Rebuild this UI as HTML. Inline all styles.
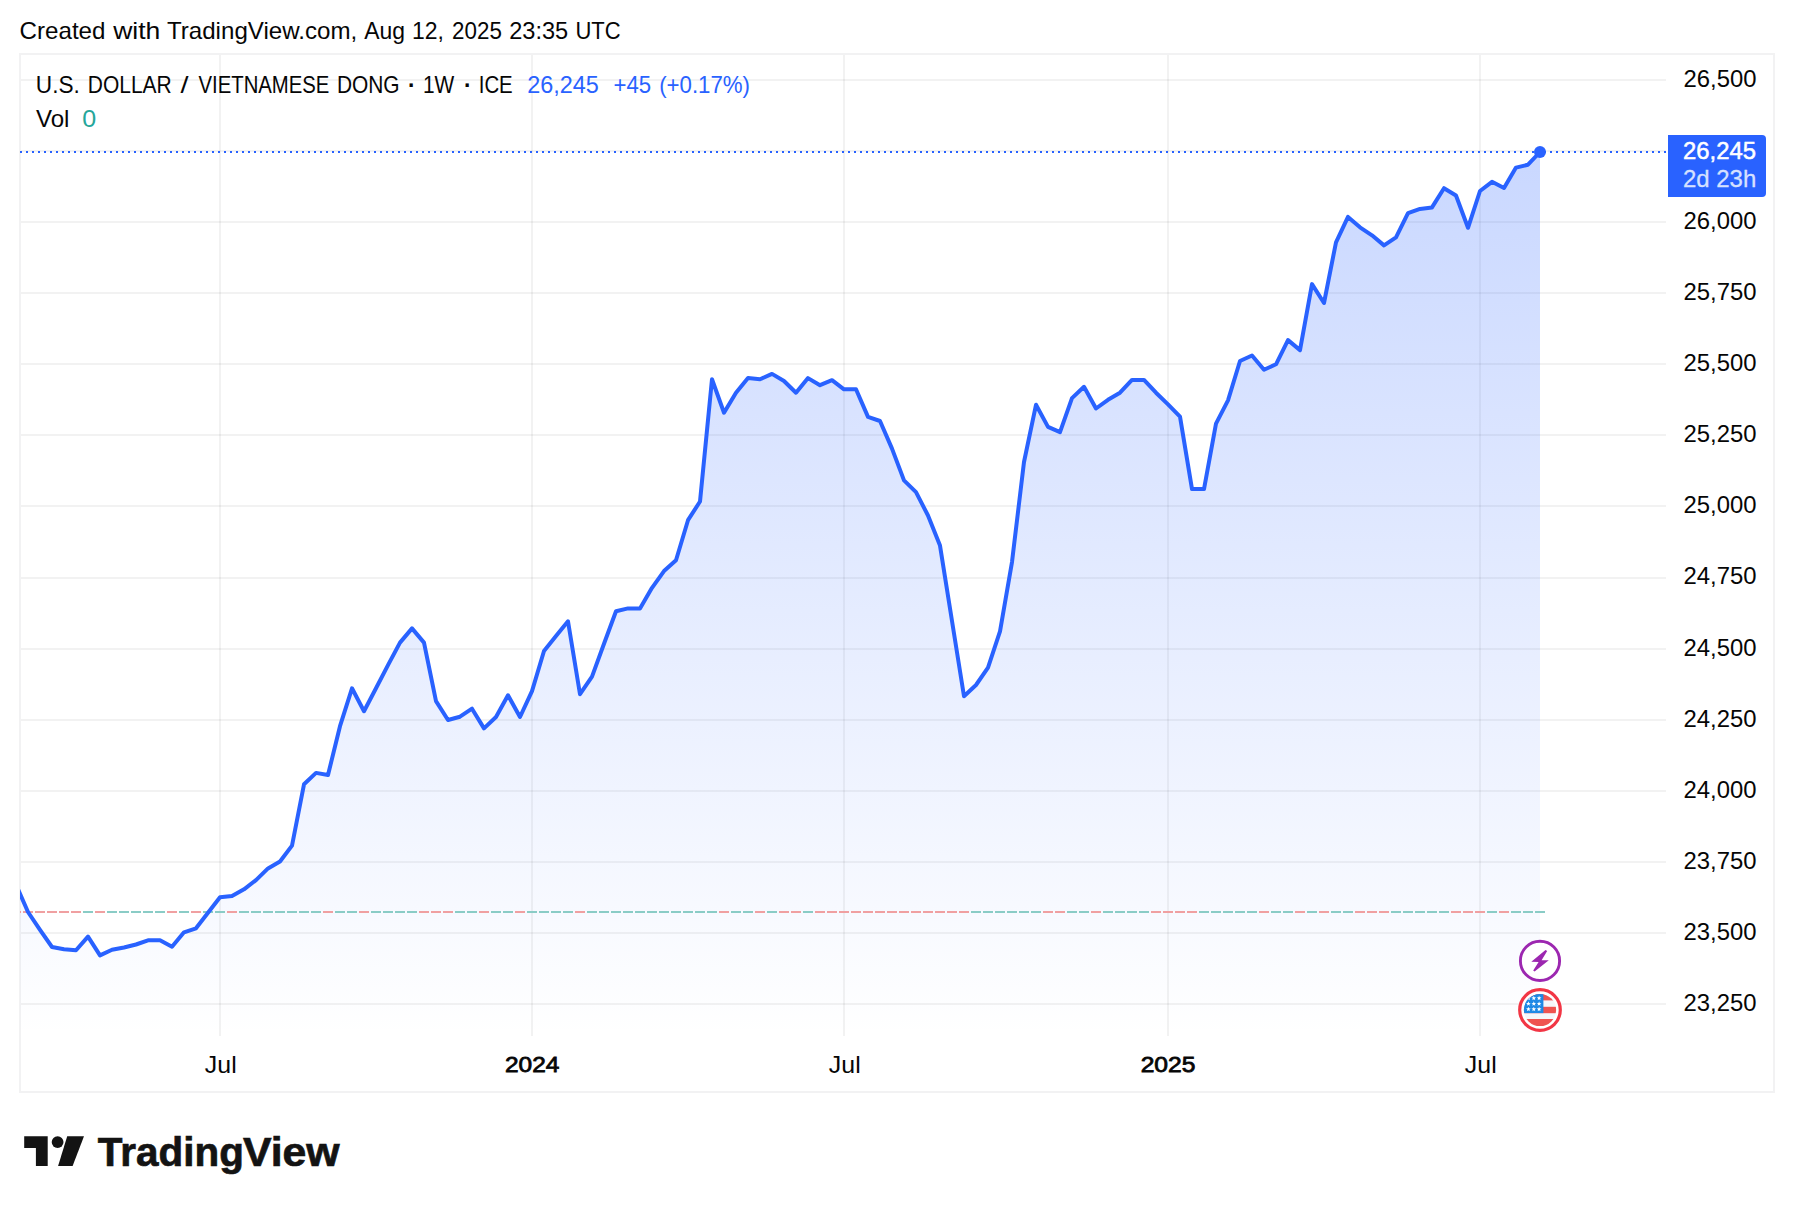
<!DOCTYPE html>
<html lang="en"><head><meta charset="utf-8"><title>USDVND chart</title>
<style>html,body{margin:0;padding:0;background:#fff}body{width:1794px;height:1212px;overflow:hidden;position:relative;font-family:'Liberation Sans', sans-serif}svg{position:absolute;left:0;top:0;display:block}text{font-family:'Liberation Sans', sans-serif}</style></head><body>
<svg width="1794" height="1212" viewBox="0 0 1794 1212">
<defs><linearGradient id="ag" gradientUnits="userSpaceOnUse" x1="0" y1="55" x2="0" y2="1036"><stop offset="0" stop-color="#2962ff" stop-opacity="0.28"/><stop offset="1" stop-color="#2962ff" stop-opacity="0"/></linearGradient>
<clipPath id="pane"><rect x="20" y="55" width="1648" height="981"/></clipPath>
<clipPath id="flagc"><circle cx="1540" cy="1010" r="16.1"/></clipPath></defs>
<g id="hdr"><text x="19.55" y="38.8" font-size="23.4" fill="#060606" textLength="85.90" lengthAdjust="spacingAndGlyphs">Created</text><text x="113.17" y="38.8" font-size="23.4" fill="#060606" textLength="47.16" lengthAdjust="spacingAndGlyphs">with</text><text x="166.98" y="38.8" font-size="23.4" fill="#060606" textLength="190.21" lengthAdjust="spacingAndGlyphs">TradingView.com,</text><text x="364.23" y="38.8" font-size="23.4" fill="#060606" textLength="40.76" lengthAdjust="spacingAndGlyphs">Aug</text><text x="411.89" y="38.8" font-size="23.4" fill="#060606" textLength="31.96" lengthAdjust="spacingAndGlyphs">12,</text><text x="452.10" y="38.8" font-size="23.4" fill="#060606" textLength="49.76" lengthAdjust="spacingAndGlyphs">2025</text><text x="509.22" y="38.8" font-size="23.4" fill="#060606" textLength="59.02" lengthAdjust="spacingAndGlyphs">23:35</text><text x="575.47" y="38.8" font-size="23.4" fill="#060606" textLength="45.18" lengthAdjust="spacingAndGlyphs">UTC</text></g>
<rect x="20" y="54" width="1754" height="1038" fill="none" stroke="#f2f2f3" stroke-width="2"/>
<g fill="rgba(0,0,0,0.05)">
<rect x="21" y="79" width="1645" height="2"/>
<rect x="21" y="150" width="1645" height="2"/>
<rect x="21" y="221" width="1645" height="2"/>
<rect x="21" y="292" width="1645" height="2"/>
<rect x="21" y="363" width="1645" height="2"/>
<rect x="21" y="434" width="1645" height="2"/>
<rect x="21" y="505" width="1645" height="2"/>
<rect x="21" y="577" width="1645" height="2"/>
<rect x="21" y="648" width="1645" height="2"/>
<rect x="21" y="719" width="1645" height="2"/>
<rect x="21" y="790" width="1645" height="2"/>
<rect x="21" y="861" width="1645" height="2"/>
<rect x="21" y="932" width="1645" height="2"/>
<rect x="21" y="1003" width="1645" height="2"/>
<rect x="219" y="55" width="2" height="981"/>
<rect x="531" y="55" width="2" height="981"/>
<rect x="843" y="55" width="2" height="981"/>
<rect x="1167" y="55" width="2" height="981"/>
<rect x="1479" y="55" width="2" height="981"/>
</g>
<g clip-path="url(#pane)">
<path d="M16,884.6 L28,912 L40,929.9 L52,947 L64,949.2 L76,950.3 L88,936.6 L100,955.4 L112,949.8 L124,947.5 L136,944.5 L148,940.3 L160,940.3 L172,946.7 L184,932.3 L196,928.3 L208,912.7 L220,897.3 L232,896 L244,889.3 L256,880.1 L268,868.4 L280,861.5 L292,845.6 L304,784.3 L316,772.9 L328,775 L340,726.2 L352,688.3 L364,711.2 L376,688.3 L388,665.2 L400,642.6 L412,628.4 L424,642.6 L436,701.1 L448,720 L460,716.7 L472,708.7 L484,728.4 L496,717 L508,695.3 L520,717 L532,691.1 L544,651 L556,635.9 L568,621.3 L580,694.2 L592,676.6 L604,643.8 L616,611.2 L628,608.4 L640,608.4 L652,587.8 L664,571.1 L676,560.2 L688,520.2 L700,501.5 L712,379.3 L724,412.7 L736,392.7 L748,378.1 L760,379.3 L772,373.9 L784,381 L796,392.7 L808,378.1 L820,385.2 L832,380.2 L844,389.3 L856,389.3 L868,416.9 L880,421 L892,448.6 L904,480.4 L916,492.1 L928,515.5 L940,545.6 L952,621 L964,696.2 L976,685 L988,667.7 L1000,631.4 L1012,562.1 L1024,462 L1036,404.8 L1048,426.9 L1060,432.2 L1072,398.1 L1084,386.8 L1096,408.5 L1108,399.8 L1120,392.7 L1132,379.9 L1144,379.9 L1156,392.7 L1168,404.4 L1180,416.7 L1192,489.1 L1204,489.1 L1216,423.7 L1228,400.3 L1240,361 L1252,355.5 L1264,369.8 L1276,364.3 L1288,340.1 L1300,350.1 L1312,284.1 L1324,303 L1336,242.3 L1348,216.9 L1360,227.3 L1372,235.3 L1384,245.4 L1396,237.3 L1408,213.2 L1420,208.9 L1432,207.4 L1444,188.2 L1456,195.5 L1468,227.8 L1480,191 L1492,181.8 L1504,188 L1516,167.6 L1528,164.7 L1540,152 L1540,1036 L16,1036 Z" fill="url(#ag)"/>
<g>
<rect x="11" y="911" width="10" height="2" fill="#f0a0a1"/>
<rect x="23" y="911" width="10" height="2" fill="#f0a0a1"/>
<rect x="35" y="911" width="10" height="2" fill="#f0a0a1"/>
<rect x="47" y="911" width="10" height="2" fill="#f0a0a1"/>
<rect x="59" y="911" width="10" height="2" fill="#f0a0a1"/>
<rect x="71" y="911" width="10" height="2" fill="#f0a0a1"/>
<rect x="83" y="911" width="10" height="2" fill="#8accc6"/>
<rect x="95" y="911" width="10" height="2" fill="#f0a0a1"/>
<rect x="107" y="911" width="10" height="2" fill="#8accc6"/>
<rect x="119" y="911" width="10" height="2" fill="#8accc6"/>
<rect x="131" y="911" width="10" height="2" fill="#8accc6"/>
<rect x="143" y="911" width="10" height="2" fill="#8accc6"/>
<rect x="155" y="911" width="10" height="2" fill="#8accc6"/>
<rect x="167" y="911" width="10" height="2" fill="#f0a0a1"/>
<rect x="179" y="911" width="10" height="2" fill="#8accc6"/>
<rect x="191" y="911" width="10" height="2" fill="#f0a0a1"/>
<rect x="203" y="911" width="10" height="2" fill="#8accc6"/>
<rect x="215" y="911" width="10" height="2" fill="#8accc6"/>
<rect x="227" y="911" width="10" height="2" fill="#f0a0a1"/>
<rect x="239" y="911" width="10" height="2" fill="#8accc6"/>
<rect x="251" y="911" width="10" height="2" fill="#8accc6"/>
<rect x="263" y="911" width="10" height="2" fill="#8accc6"/>
<rect x="275" y="911" width="10" height="2" fill="#8accc6"/>
<rect x="287" y="911" width="10" height="2" fill="#8accc6"/>
<rect x="299" y="911" width="10" height="2" fill="#8accc6"/>
<rect x="311" y="911" width="10" height="2" fill="#8accc6"/>
<rect x="323" y="911" width="10" height="2" fill="#f0a0a1"/>
<rect x="335" y="911" width="10" height="2" fill="#8accc6"/>
<rect x="347" y="911" width="10" height="2" fill="#8accc6"/>
<rect x="359" y="911" width="10" height="2" fill="#f0a0a1"/>
<rect x="371" y="911" width="10" height="2" fill="#8accc6"/>
<rect x="383" y="911" width="10" height="2" fill="#8accc6"/>
<rect x="395" y="911" width="10" height="2" fill="#8accc6"/>
<rect x="407" y="911" width="10" height="2" fill="#8accc6"/>
<rect x="419" y="911" width="10" height="2" fill="#f0a0a1"/>
<rect x="431" y="911" width="10" height="2" fill="#f0a0a1"/>
<rect x="443" y="911" width="10" height="2" fill="#f0a0a1"/>
<rect x="455" y="911" width="10" height="2" fill="#8accc6"/>
<rect x="467" y="911" width="10" height="2" fill="#8accc6"/>
<rect x="479" y="911" width="10" height="2" fill="#f0a0a1"/>
<rect x="491" y="911" width="10" height="2" fill="#8accc6"/>
<rect x="503" y="911" width="10" height="2" fill="#8accc6"/>
<rect x="515" y="911" width="10" height="2" fill="#f0a0a1"/>
<rect x="527" y="911" width="10" height="2" fill="#8accc6"/>
<rect x="539" y="911" width="10" height="2" fill="#8accc6"/>
<rect x="551" y="911" width="10" height="2" fill="#8accc6"/>
<rect x="563" y="911" width="10" height="2" fill="#8accc6"/>
<rect x="575" y="911" width="10" height="2" fill="#f0a0a1"/>
<rect x="587" y="911" width="10" height="2" fill="#8accc6"/>
<rect x="599" y="911" width="10" height="2" fill="#8accc6"/>
<rect x="611" y="911" width="10" height="2" fill="#8accc6"/>
<rect x="623" y="911" width="10" height="2" fill="#8accc6"/>
<rect x="635" y="911" width="10" height="2" fill="#8accc6"/>
<rect x="647" y="911" width="10" height="2" fill="#8accc6"/>
<rect x="659" y="911" width="10" height="2" fill="#8accc6"/>
<rect x="671" y="911" width="10" height="2" fill="#8accc6"/>
<rect x="683" y="911" width="10" height="2" fill="#8accc6"/>
<rect x="695" y="911" width="10" height="2" fill="#8accc6"/>
<rect x="707" y="911" width="10" height="2" fill="#8accc6"/>
<rect x="719" y="911" width="10" height="2" fill="#f0a0a1"/>
<rect x="731" y="911" width="10" height="2" fill="#8accc6"/>
<rect x="743" y="911" width="10" height="2" fill="#8accc6"/>
<rect x="755" y="911" width="10" height="2" fill="#f0a0a1"/>
<rect x="767" y="911" width="10" height="2" fill="#8accc6"/>
<rect x="779" y="911" width="10" height="2" fill="#f0a0a1"/>
<rect x="791" y="911" width="10" height="2" fill="#f0a0a1"/>
<rect x="803" y="911" width="10" height="2" fill="#8accc6"/>
<rect x="815" y="911" width="10" height="2" fill="#f0a0a1"/>
<rect x="827" y="911" width="10" height="2" fill="#f0a0a1"/>
<rect x="839" y="911" width="10" height="2" fill="#f0a0a1"/>
<rect x="851" y="911" width="10" height="2" fill="#f0a0a1"/>
<rect x="863" y="911" width="10" height="2" fill="#f0a0a1"/>
<rect x="875" y="911" width="10" height="2" fill="#f0a0a1"/>
<rect x="887" y="911" width="10" height="2" fill="#f0a0a1"/>
<rect x="899" y="911" width="10" height="2" fill="#f0a0a1"/>
<rect x="911" y="911" width="10" height="2" fill="#f0a0a1"/>
<rect x="923" y="911" width="10" height="2" fill="#f0a0a1"/>
<rect x="935" y="911" width="10" height="2" fill="#f0a0a1"/>
<rect x="947" y="911" width="10" height="2" fill="#f0a0a1"/>
<rect x="959" y="911" width="10" height="2" fill="#f0a0a1"/>
<rect x="971" y="911" width="10" height="2" fill="#8accc6"/>
<rect x="983" y="911" width="10" height="2" fill="#8accc6"/>
<rect x="995" y="911" width="10" height="2" fill="#8accc6"/>
<rect x="1007" y="911" width="10" height="2" fill="#8accc6"/>
<rect x="1019" y="911" width="10" height="2" fill="#8accc6"/>
<rect x="1031" y="911" width="10" height="2" fill="#8accc6"/>
<rect x="1043" y="911" width="10" height="2" fill="#f0a0a1"/>
<rect x="1055" y="911" width="10" height="2" fill="#f0a0a1"/>
<rect x="1067" y="911" width="10" height="2" fill="#8accc6"/>
<rect x="1079" y="911" width="10" height="2" fill="#8accc6"/>
<rect x="1091" y="911" width="10" height="2" fill="#f0a0a1"/>
<rect x="1103" y="911" width="10" height="2" fill="#8accc6"/>
<rect x="1115" y="911" width="10" height="2" fill="#8accc6"/>
<rect x="1127" y="911" width="10" height="2" fill="#8accc6"/>
<rect x="1139" y="911" width="10" height="2" fill="#8accc6"/>
<rect x="1151" y="911" width="10" height="2" fill="#f0a0a1"/>
<rect x="1163" y="911" width="10" height="2" fill="#f0a0a1"/>
<rect x="1175" y="911" width="10" height="2" fill="#f0a0a1"/>
<rect x="1187" y="911" width="10" height="2" fill="#f0a0a1"/>
<rect x="1199" y="911" width="10" height="2" fill="#8accc6"/>
<rect x="1211" y="911" width="10" height="2" fill="#8accc6"/>
<rect x="1223" y="911" width="10" height="2" fill="#8accc6"/>
<rect x="1235" y="911" width="10" height="2" fill="#8accc6"/>
<rect x="1247" y="911" width="10" height="2" fill="#8accc6"/>
<rect x="1259" y="911" width="10" height="2" fill="#f0a0a1"/>
<rect x="1271" y="911" width="10" height="2" fill="#8accc6"/>
<rect x="1283" y="911" width="10" height="2" fill="#8accc6"/>
<rect x="1295" y="911" width="10" height="2" fill="#f0a0a1"/>
<rect x="1307" y="911" width="10" height="2" fill="#8accc6"/>
<rect x="1319" y="911" width="10" height="2" fill="#f0a0a1"/>
<rect x="1331" y="911" width="10" height="2" fill="#8accc6"/>
<rect x="1343" y="911" width="10" height="2" fill="#8accc6"/>
<rect x="1355" y="911" width="10" height="2" fill="#f0a0a1"/>
<rect x="1367" y="911" width="10" height="2" fill="#f0a0a1"/>
<rect x="1379" y="911" width="10" height="2" fill="#f0a0a1"/>
<rect x="1391" y="911" width="10" height="2" fill="#8accc6"/>
<rect x="1403" y="911" width="10" height="2" fill="#8accc6"/>
<rect x="1415" y="911" width="10" height="2" fill="#8accc6"/>
<rect x="1427" y="911" width="10" height="2" fill="#8accc6"/>
<rect x="1439" y="911" width="10" height="2" fill="#8accc6"/>
<rect x="1451" y="911" width="10" height="2" fill="#f0a0a1"/>
<rect x="1463" y="911" width="10" height="2" fill="#f0a0a1"/>
<rect x="1475" y="911" width="10" height="2" fill="#f0a0a1"/>
<rect x="1487" y="911" width="10" height="2" fill="#8accc6"/>
<rect x="1499" y="911" width="10" height="2" fill="#f0a0a1"/>
<rect x="1511" y="911" width="10" height="2" fill="#8accc6"/>
<rect x="1523" y="911" width="10" height="2" fill="#8accc6"/>
<rect x="1535" y="911" width="10" height="2" fill="#8accc6"/>
</g>
<path d="M16,884.6 L28,912 L40,929.9 L52,947 L64,949.2 L76,950.3 L88,936.6 L100,955.4 L112,949.8 L124,947.5 L136,944.5 L148,940.3 L160,940.3 L172,946.7 L184,932.3 L196,928.3 L208,912.7 L220,897.3 L232,896 L244,889.3 L256,880.1 L268,868.4 L280,861.5 L292,845.6 L304,784.3 L316,772.9 L328,775 L340,726.2 L352,688.3 L364,711.2 L376,688.3 L388,665.2 L400,642.6 L412,628.4 L424,642.6 L436,701.1 L448,720 L460,716.7 L472,708.7 L484,728.4 L496,717 L508,695.3 L520,717 L532,691.1 L544,651 L556,635.9 L568,621.3 L580,694.2 L592,676.6 L604,643.8 L616,611.2 L628,608.4 L640,608.4 L652,587.8 L664,571.1 L676,560.2 L688,520.2 L700,501.5 L712,379.3 L724,412.7 L736,392.7 L748,378.1 L760,379.3 L772,373.9 L784,381 L796,392.7 L808,378.1 L820,385.2 L832,380.2 L844,389.3 L856,389.3 L868,416.9 L880,421 L892,448.6 L904,480.4 L916,492.1 L928,515.5 L940,545.6 L952,621 L964,696.2 L976,685 L988,667.7 L1000,631.4 L1012,562.1 L1024,462 L1036,404.8 L1048,426.9 L1060,432.2 L1072,398.1 L1084,386.8 L1096,408.5 L1108,399.8 L1120,392.7 L1132,379.9 L1144,379.9 L1156,392.7 L1168,404.4 L1180,416.7 L1192,489.1 L1204,489.1 L1216,423.7 L1228,400.3 L1240,361 L1252,355.5 L1264,369.8 L1276,364.3 L1288,340.1 L1300,350.1 L1312,284.1 L1324,303 L1336,242.3 L1348,216.9 L1360,227.3 L1372,235.3 L1384,245.4 L1396,237.3 L1408,213.2 L1420,208.9 L1432,207.4 L1444,188.2 L1456,195.5 L1468,227.8 L1480,191 L1492,181.8 L1504,188 L1516,167.6 L1528,164.7 L1540,152" fill="none" stroke="#2962ff" stroke-width="4" stroke-linejoin="round" stroke-linecap="round"/>
</g>
<path d="M20,152 H1668" stroke="#2962ff" stroke-width="2" stroke-dasharray="2 4" fill="none"/>
<circle cx="1540" cy="152" r="6" fill="#2962ff"/>
<g id="legend"><text x="35.86" y="92.7" font-size="23.4" fill="#060606" textLength="43.99" lengthAdjust="spacingAndGlyphs">U.S.</text><text x="87.80" y="92.7" font-size="23.4" fill="#060606" textLength="83.92" lengthAdjust="spacingAndGlyphs">DOLLAR</text><text x="180.60" y="92.7" font-size="23.4" fill="#060606" textLength="8.02" lengthAdjust="spacingAndGlyphs">/</text><text x="198.53" y="92.7" font-size="23.4" fill="#060606" textLength="130.84" lengthAdjust="spacingAndGlyphs">VIETNAMESE</text><text x="336.89" y="92.7" font-size="23.4" fill="#060606" textLength="62.69" lengthAdjust="spacingAndGlyphs">DONG</text><text x="423.02" y="92.7" font-size="23.4" fill="#060606" textLength="31.31" lengthAdjust="spacingAndGlyphs">1W</text><text x="478.73" y="92.7" font-size="23.4" fill="#060606" textLength="34.00" lengthAdjust="spacingAndGlyphs">ICE</text>
<text x="405.4" y="94.4" font-size="34" fill="#060606">·</text><text x="461.5" y="94.4" font-size="34" fill="#060606">·</text>
<text x="527.21" y="92.7" font-size="23.4" fill="#2962ff" textLength="71.61" lengthAdjust="spacingAndGlyphs">26,245</text><text x="613.55" y="92.7" font-size="23.4" fill="#2962ff" textLength="37.62" lengthAdjust="spacingAndGlyphs">+45</text><text x="659.13" y="92.7" font-size="23.4" fill="#2962ff" textLength="90.86" lengthAdjust="spacingAndGlyphs">(+0.17%)</text>
<text x="35.92" y="126.7" font-size="23.4" fill="#060606" textLength="33.49" lengthAdjust="spacingAndGlyphs">Vol</text><text x="82.34" y="126.7" font-size="23.4" fill="#26a69a" textLength="13.94" lengthAdjust="spacingAndGlyphs">0</text></g>
<g id="paxis">
<text x="1683.55" y="86.9" font-size="23.4" fill="#060606" textLength="73.00" lengthAdjust="spacingAndGlyphs">26,500</text>
<text x="1683.55" y="229.1" font-size="23.4" fill="#060606" textLength="73.00" lengthAdjust="spacingAndGlyphs">26,000</text>
<text x="1683.55" y="300.1" font-size="23.4" fill="#060606" textLength="73.00" lengthAdjust="spacingAndGlyphs">25,750</text>
<text x="1683.55" y="371.2" font-size="23.4" fill="#060606" textLength="73.00" lengthAdjust="spacingAndGlyphs">25,500</text>
<text x="1683.55" y="442.3" font-size="23.4" fill="#060606" textLength="73.00" lengthAdjust="spacingAndGlyphs">25,250</text>
<text x="1683.55" y="513.4" font-size="23.4" fill="#060606" textLength="73.00" lengthAdjust="spacingAndGlyphs">25,000</text>
<text x="1683.55" y="584.4" font-size="23.4" fill="#060606" textLength="73.00" lengthAdjust="spacingAndGlyphs">24,750</text>
<text x="1683.55" y="655.5" font-size="23.4" fill="#060606" textLength="73.00" lengthAdjust="spacingAndGlyphs">24,500</text>
<text x="1683.55" y="726.6" font-size="23.4" fill="#060606" textLength="73.00" lengthAdjust="spacingAndGlyphs">24,250</text>
<text x="1683.55" y="797.7" font-size="23.4" fill="#060606" textLength="73.00" lengthAdjust="spacingAndGlyphs">24,000</text>
<text x="1683.55" y="868.7" font-size="23.4" fill="#060606" textLength="73.00" lengthAdjust="spacingAndGlyphs">23,750</text>
<text x="1683.55" y="939.8" font-size="23.4" fill="#060606" textLength="73.00" lengthAdjust="spacingAndGlyphs">23,500</text>
<text x="1683.55" y="1010.9" font-size="23.4" fill="#060606" textLength="73.00" lengthAdjust="spacingAndGlyphs">23,250</text>
</g>
<path d="M1668,135 H1762 a4,4 0 0 1 4,4 V193 a4,4 0 0 1 -4,4 H1668 Z" fill="#2962ff"/>
<text x="1683.04" y="158.7" font-size="23.4" fill="#fff" textLength="72.87" lengthAdjust="spacingAndGlyphs" stroke="#fff" stroke-width="0.5">26,245</text>
<text x="1683.03" y="186.8" font-size="23.4" fill="#d6e1ff" textLength="73.20" lengthAdjust="spacingAndGlyphs" stroke="#d6e1ff" stroke-width="0.3">2d 23h</text>
<g id="taxis">
<text x="204.88" y="1072.8" font-size="23.6" fill="#060606" textLength="31.84" lengthAdjust="spacingAndGlyphs">Jul</text><text x="828.88" y="1072.8" font-size="23.6" fill="#060606" textLength="31.84" lengthAdjust="spacingAndGlyphs">Jul</text><text x="1464.88" y="1072.8" font-size="23.6" fill="#060606" textLength="31.84" lengthAdjust="spacingAndGlyphs">Jul</text>
<text x="505.01" y="1072.4" font-size="22.6" fill="#060606" textLength="54.39" lengthAdjust="spacingAndGlyphs" stroke="#060606" stroke-width="0.8">2024</text><text x="1140.66" y="1072.4" font-size="22.6" fill="#060606" textLength="54.81" lengthAdjust="spacingAndGlyphs" stroke="#060606" stroke-width="0.8">2025</text>
</g>
<circle cx="1540" cy="960.9" r="19.6" fill="#fff" stroke="#9c27b0" stroke-width="2.9"/>
<path d="M1545.5,950 L1547.2,951 L1541.6,960.2 L1548.8,960.3 L1534.6,971.6 L1533.2,970.5 L1538.6,961.9 L1531.3,961.7 Z" fill="#9c27b0"/>
<circle cx="1540" cy="1010" r="20.3" fill="#fff" stroke="#f23645" stroke-width="3.2"/>
<g clip-path="url(#flagc)"><rect x="1522" y="992" width="36" height="36" fill="#f5f6fa"/>
<rect x="1522" y="993" width="36" height="7.4" fill="#ef5350"/><rect x="1522" y="1006.8" width="36" height="6.4" fill="#ef5350"/><rect x="1522" y="1019" width="36" height="8" fill="#ef5350"/>
<rect x="1522" y="992" width="21.4" height="21.1" fill="#1e88e5"/>
<g fill="#fff"><polygon points="1528.40,995.70 1529.02,997.35 1530.78,997.43 1529.40,998.52 1529.87,1000.22 1528.40,999.25 1526.93,1000.22 1527.40,998.52 1526.02,997.43 1527.78,997.35"/><polygon points="1533.80,995.70 1534.42,997.35 1536.18,997.43 1534.80,998.52 1535.27,1000.22 1533.80,999.25 1532.33,1000.22 1532.80,998.52 1531.42,997.43 1533.18,997.35"/><polygon points="1539.10,995.70 1539.72,997.35 1541.48,997.43 1540.10,998.52 1540.57,1000.22 1539.10,999.25 1537.63,1000.22 1538.10,998.52 1536.72,997.43 1538.48,997.35"/><polygon points="1528.40,1001.30 1529.02,1002.95 1530.78,1003.03 1529.40,1004.12 1529.87,1005.82 1528.40,1004.85 1526.93,1005.82 1527.40,1004.12 1526.02,1003.03 1527.78,1002.95"/><polygon points="1533.80,1001.30 1534.42,1002.95 1536.18,1003.03 1534.80,1004.12 1535.27,1005.82 1533.80,1004.85 1532.33,1005.82 1532.80,1004.12 1531.42,1003.03 1533.18,1002.95"/><polygon points="1539.10,1001.30 1539.72,1002.95 1541.48,1003.03 1540.10,1004.12 1540.57,1005.82 1539.10,1004.85 1537.63,1005.82 1538.10,1004.12 1536.72,1003.03 1538.48,1002.95"/><polygon points="1528.40,1006.70 1529.02,1008.35 1530.78,1008.43 1529.40,1009.52 1529.87,1011.22 1528.40,1010.25 1526.93,1011.22 1527.40,1009.52 1526.02,1008.43 1527.78,1008.35"/><polygon points="1533.80,1006.70 1534.42,1008.35 1536.18,1008.43 1534.80,1009.52 1535.27,1011.22 1533.80,1010.25 1532.33,1011.22 1532.80,1009.52 1531.42,1008.43 1533.18,1008.35"/><polygon points="1539.10,1006.70 1539.72,1008.35 1541.48,1008.43 1540.10,1009.52 1540.57,1011.22 1539.10,1010.25 1537.63,1011.22 1538.10,1009.52 1536.72,1008.43 1538.48,1008.35"/></g></g>
<g fill="#131313"><path d="M24.2,1136.2 H47.7 V1165.9 H35.9 V1148 H24.2 Z"/><circle cx="57.6" cy="1142.1" r="5.9"/><path d="M67.2,1136.2 H84 L72.6,1165.9 H58.1 Z"/></g>
<text x="97.85" y="1165.9" font-size="41.4" fill="#131313" textLength="146.05" lengthAdjust="spacingAndGlyphs" font-weight="bold" stroke="#131313" stroke-width="0.7">Trading</text><text x="242.90" y="1165.9" font-size="41.4" fill="#131313" textLength="96.76" lengthAdjust="spacingAndGlyphs" font-weight="bold" stroke="#131313" stroke-width="0.7">View</text>
</svg></body></html>
